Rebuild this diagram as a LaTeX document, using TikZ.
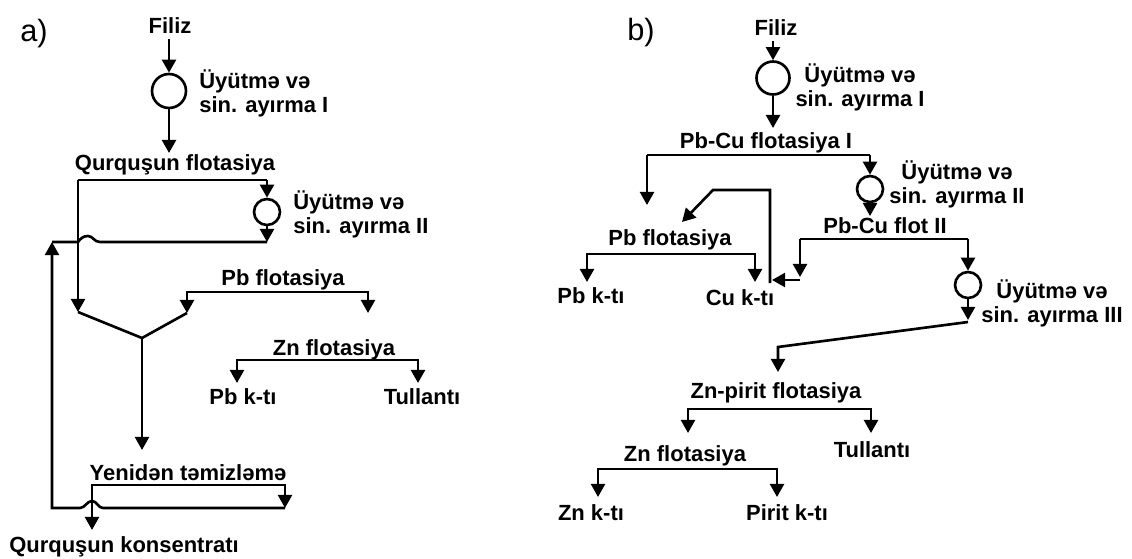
\documentclass[tikz,border=0pt]{standalone}
\usepackage{fontspec}
\setmainfont{Liberation Sans}
\usetikzlibrary{arrows.meta}

\begin{document}
\begin{tikzpicture}[x=0.02cm,y=-0.02cm,
  flow/.style={line width=1.5pt, line join=miter},
  arr/.style={flow,-{Triangle[width=8pt,length=7.5pt]}},
  biarr/.style={flow,{Triangle[width=8pt,length=7.5pt]}-{Triangle[width=8pt,length=7.5pt]}},
  txt/.style={font=\fontsize{12.5}{13.3}\selectfont\bfseries, inner sep=0pt, anchor=base},
  stage/.style={txt, align=left, anchor=base west},
  stagec/.style={txt, align=center},
  mill/.style={circle, draw, line width=1.5pt, inner sep=0pt, minimum size=#1},
  tag/.style={font=\fontsize{17.5}{19}\selectfont, inner sep=0pt, anchor=base west}
]
\useasboundingbox (0,0) rectangle (1132,558);

% ---------------- scheme a) ----------------
\node[tag] (ta) at (20,41) {a)};
\node[txt] (fa) at (170,33) {Filiz};
\node[mill=0.68cm] (ma1) at (169,91) {};
\node[stage] (sa1) at (199,112) {Üyütmə və\\sin. ayırma I};
\node[txt] (qfa) at (175,170) {Qurquşun flotasiya};
\node[mill=0.52cm] (ma2) at (267,212) {};
\node[stage] (sa2) at (293,233) {Üyütmə və\\sin. ayırma II};
\node[txt] (pbfa) at (283,285) {Pb flotasiya};
\node[txt] (znfa) at (334,355) {Zn flotasiya};
\node[txt] (pbka) at (243,404) {Pb k-tı};
\node[txt] (tla) at (422,404) {Tullantı};
\node[txt] (yta) at (188,480) {Yenidən təmizləmə};
\node[txt] (qka) at (124,552) {Qurquşun konsentratı};

\coordinate (a-feed) at (169,39);
\coordinate (a-qf) at (169,153);
\coordinate (a-qfL) at (78,180);
\coordinate (a-qfR) at (267,180);
\coordinate (a-ret) at (267,242);
\coordinate (a-j1) at (100,242);
\coordinate (a-jp) at (88,236);
\coordinate (a-j2) at (78,242);
\coordinate (a-rcTop) at (52,242);
\coordinate (a-yL) at (78,312);
\coordinate (a-yM) at (142,338);
\coordinate (a-yR) at (187,313);
\coordinate (a-pbL) at (187,292);
\coordinate (a-pbR) at (368,292);
\coordinate (a-pbT) at (368,313);
\coordinate (a-yt) at (142,450);
\coordinate (a-znA) at (237,383);
\coordinate (a-znL) at (237,360);
\coordinate (a-znR) at (418,360);
\coordinate (a-znB) at (418,383);
\coordinate (a-ytL) at (92,485);
\coordinate (a-ytR) at (285,485);
\coordinate (a-ytT) at (285,508);
\coordinate (a-qk) at (92,530);
\coordinate (a-j3) at (103,508);
\coordinate (a-jq) at (92,501);
\coordinate (a-j4) at (80,508);
\coordinate (a-rcBot) at (52,508);

\draw[arr] (a-feed) -- (ma1.north);
\draw[arr] (ma1.south) -- (a-qf);
\draw[flow] (a-qfL) -- (a-qfR);
\draw[arr] (a-qfR) -- (ma2.north);
\draw[arr] (ma2.south) -- (a-ret);
\draw[flow] (a-ret) -- (a-j1) .. controls +(-6,0) and +(5,0) .. (a-jp)
  .. controls +(-5,0) and +(2,-3) .. (a-j2) -- (a-rcTop);
\draw[arr] (a-qfL) -- (a-yL);
\draw[flow] (a-yL) -- (a-yM) -- (a-yR);
\draw[arr] (a-yM) -- (a-yt);
\draw[biarr] (a-yR) -- (a-pbL) -- (a-pbR) -- (a-pbT);
\draw[biarr] (a-znA) -- (a-znL) -- (a-znR) -- (a-znB);
\draw[biarr] (a-qk) -- (a-ytL) -- (a-ytR) -- (a-ytT);
\draw[arr] (a-ytT) -- (a-j3) .. controls +(-5,0) and +(5,0) .. (a-jq)
  .. controls +(-5,0) and +(5,0) .. (a-j4) -- (a-rcBot) -- (a-rcTop);

% ---------------- scheme b) ----------------
\node[tag] (tb) at (627,40) {b)};
\node[txt] (fb) at (776,35) {Filiz};
\node[mill=0.66cm] (mb1) at (773,78) {};
\node[stagec] (sb1) at (860,106) {Üyütmə və\\sin. ayırma I};
\node[txt] (pcf1) at (766,148) {Pb-Cu flotasiya I};
\node[mill=0.52cm] (mb2) at (870,189) {};
\node[stagec] (sb2) at (957,203) {Üyütmə və\\sin. ayırma II};
\node[txt] (pcf2) at (885,233) {Pb-Cu flot II};
\node[txt] (pbfb) at (670,245) {Pb flotasiya};
\node[txt] (pbkb) at (591,303) {Pb k-tı};
\node[txt] (cukb) at (740,305) {Cu k-tı};
\node[mill=0.52cm] (mb3) at (968,285) {};
\node[stagec] (sb3) at (1052,322) {Üyütmə və\\sin. ayırma III};
\node[txt] (zpf) at (776,398) {Zn-pirit flotasiya};
\node[txt] (tlb) at (872,457) {Tullantı};
\node[txt] (znfb) at (685,461) {Zn flotasiya};
\node[txt] (znkb) at (591,520) {Zn k-tı};
\node[txt] (pikb) at (787,520) {Pirit k-tı};

\coordinate (b-feed) at (773,41);
\coordinate (b-f1) at (773,128);
\coordinate (b-f1A) at (647,205);
\coordinate (b-f1L) at (647,155);
\coordinate (b-f1R) at (870,155);
\coordinate (b-f2) at (870,216);
\coordinate (b-f2L) at (800,239);
\coordinate (b-f2R) at (968,239);
\coordinate (b-f2A) at (800,277);
\coordinate (b-cuJ) at (800,280);
\coordinate (b-cuT) at (772,280);
\coordinate (b-cu0) at (770,283);
\coordinate (b-cu1) at (770,190);
\coordinate (b-cu2) at (713,190);
\coordinate (b-pbIn) at (682,222);
\coordinate (b-pbA) at (587,282);
\coordinate (b-pbL) at (587,254);
\coordinate (b-pbR) at (755,254);
\coordinate (b-pbB) at (755,282);
\coordinate (b-m3) at (968,320);
\coordinate (b-d0) at (968,322);
\coordinate (b-d1) at (778,347);
\coordinate (b-zp) at (778,372);
\coordinate (b-zpA) at (688,433);
\coordinate (b-zpL) at (688,409);
\coordinate (b-zpR) at (871,409);
\coordinate (b-zpB) at (871,433);
\coordinate (b-znA) at (598,497);
\coordinate (b-znL) at (598,469);
\coordinate (b-znR) at (777,469);
\coordinate (b-znB) at (777,497);

\draw[arr] (b-feed) -- (mb1.north);
\draw[arr] (mb1.south) -- (b-f1);
\draw[flow] (b-f1L) -- (b-f1R);
\draw[arr] (b-f1L) -- (b-f1A);
\draw[arr] (b-f1R) -- (mb2.north);
\draw[arr] (mb2.south) -- (b-f2);
\draw[flow] (b-f2L) -- (b-f2R);
\draw[arr] (b-f2L) -- (b-f2A);
\draw[arr] (b-cuJ) -- (b-cuT);
\draw[arr] (b-cu0) -- (b-cu1) -- (b-cu2) -- (b-pbIn);
\draw[biarr] (b-pbA) -- (b-pbL) -- (b-pbR) -- (b-pbB);
\draw[arr] (b-f2R) -- (mb3.north);
\draw[arr] (mb3.south) -- (b-m3);
\draw[arr] (b-d0) -- (b-d1) -- (b-zp);
\draw[biarr] (b-zpA) -- (b-zpL) -- (b-zpR) -- (b-zpB);
\draw[biarr] (b-znA) -- (b-znL) -- (b-znR) -- (b-znB);
\end{tikzpicture}
\end{document}
